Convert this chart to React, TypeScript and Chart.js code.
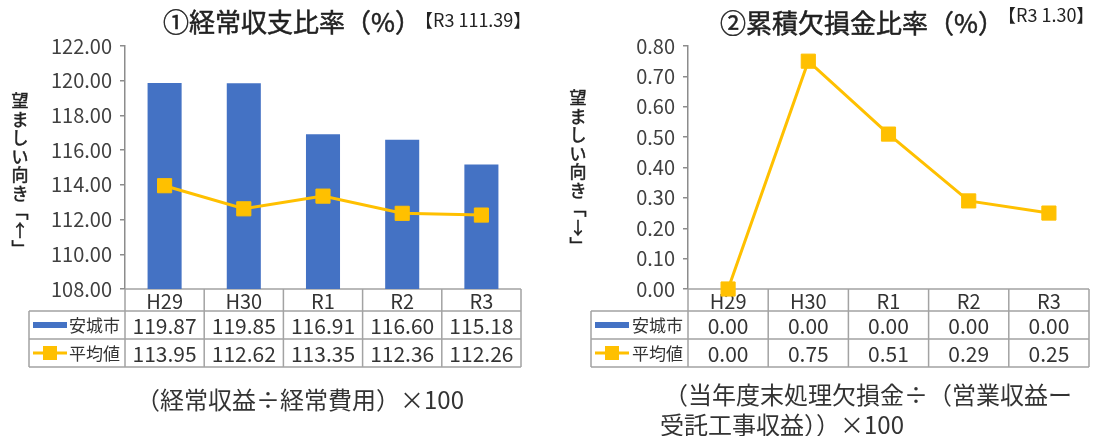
import React, { useEffect, useRef } from 'react';
import { Chart, registerables } from 'chart.js';

Chart.register(...registerables);

const FONT = "'Noto Sans CJK JP', 'Noto Sans', sans-serif";

// ---------------- data ----------------
const categories = ['H29', 'H30', 'R1', 'R2', 'R3'];
const seriesNames = ['安城市', '平均値'];

const ratioCity = [119.87, 119.85, 116.91, 116.6, 115.18];
const ratioAvg = [113.95, 112.62, 113.35, 112.36, 112.26];
const ratioTicks = [108, 110, 112, 114, 116, 118, 120, 122];

const deficitCity = [0.0, 0.0, 0.0, 0.0, 0.0];
const deficitAvg = [0.0, 0.75, 0.51, 0.29, 0.25];
const deficitTicks = [0, 0.1, 0.2, 0.3, 0.4, 0.5, 0.6, 0.7, 0.8];

const ratioTitle = '①経常収支比率（%）';
const ratioSub = '【R3 111.39】';
const deficitTitle = '②累積欠損金比率（%）';
const deficitSub = '【R3 1.30】';
const ratioYTitle = '望ましい向き﹁↑﹂';
const deficitYTitle = '望ましい向き﹁↓﹂';
const ratioFooter = ['（経常収益÷経常費用）×100'];
const deficitFooter = ['（当年度末処理欠損金÷（営業収益ー', '受託工事収益））×100'];

// ---------------- style ----------------
const BLUE = '#4472C4';
const GOLD = '#FFC000';
const LINE = '#a3a3a3';
const TEXT = '#333333';

function medText(ctx: any, t: string, x: number, y: number, w: number) {
  ctx.fillText(t, x, y);
  if (w > 0) {
    ctx.lineWidth = w;
    ctx.strokeStyle = ctx.fillStyle;
    ctx.strokeText(t, x, y);
  }
}

const decorPlugin = {
  id: 'decor',
  beforeDatasetsDraw(chart: any, _args: any, o: any) {
    const { ctx, chartArea: a } = chart;
    const labels = chart.data.labels as string[];
    const n = labels.length;
    const colW = (a.right - a.left) / n;
    const y0 = a.bottom;
    const y1 = y0 + 22;
    const y2 = y1 + 28;
    const y3 = y2 + 28;
    const tl = o.tableLeft;
    ctx.save();
    ctx.strokeStyle = LINE;
    ctx.lineWidth = 1.5;
    ctx.beginPath();
    ctx.moveTo(a.left, y0);
    ctx.lineTo(a.right, y0);
    for (const y of [y1, y2, y3]) {
      ctx.moveTo(tl, y);
      ctx.lineTo(a.right, y);
    }
    ctx.moveTo(tl, y1);
    ctx.lineTo(tl, y3);
    for (let i = 0; i <= n; i++) {
      const x = a.left + i * colW;
      ctx.moveTo(x, y0);
      ctx.lineTo(x, y3);
    }
    ctx.stroke();

    ctx.fillStyle = TEXT;
    ctx.textAlign = 'center';
    ctx.textBaseline = 'middle';
    const ds = chart.data.datasets;
    labels.forEach((l, i) => {
      const cx = a.left + (i + 0.5) * colW;
      ctx.font = `20px ${FONT}`;
      ctx.fillText(l, cx, (y0 + y1) / 2 + 1);
      ctx.font = `21px ${FONT}`;
      ctx.fillText(Number(ds[0].data[i]).toFixed(2), cx, (y1 + y2) / 2 + 1);
      ctx.fillText(Number(ds[1].data[i]).toFixed(2), cx, (y2 + y3) / 2 + 1);
    });

    // legend cells
    const r1 = (y1 + y2) / 2;
    const r2 = (y2 + y3) / 2;
    ctx.fillStyle = BLUE;
    ctx.fillRect(tl + 4, r1 - 3, 34, 6);
    ctx.strokeStyle = GOLD;
    ctx.lineWidth = 3;
    ctx.beginPath();
    ctx.moveTo(tl + 4, r2);
    ctx.lineTo(tl + 38, r2);
    ctx.stroke();
    ctx.fillStyle = GOLD;
    ctx.fillRect(tl + 21 - 7, r2 - 7, 14, 14);
    ctx.fillStyle = TEXT;
    ctx.textAlign = 'right';
    ctx.font = `17px ${FONT}`;
    ctx.fillText(ds[0].label, a.left - 5, r1 + 1);
    ctx.fillText(ds[1].label, a.left - 5, r2 + 1);
    ctx.restore();
  },
  afterDraw(chart: any, _args: any, o: any) {
    const { ctx } = chart;
    ctx.save();
    ctx.fillStyle = '#222';
    ctx.textBaseline = 'middle';
    ctx.textAlign = 'left';
    ctx.font = `26px ${FONT}`;
    medText(ctx, o.title, o.titleX, o.titleY, 0.5);
    const w = ctx.measureText(o.title).width;
    ctx.font = `18px ${FONT}`;
    ctx.fillText(o.sub, o.titleX + w - 6, o.subY);

    // vertical y title
    ctx.textAlign = 'center';
    ctx.font = `17px ${FONT}`;
    Array.from(o.yTitle as string).forEach((ch, i) => {
      medText(ctx, ch, o.yTitleX, o.yTitleY + i * 18.5, 0.5);
    });

    // footer
    ctx.font = `24px ${FONT}`;
    ctx.fillStyle = TEXT;
    o.footer.forEach((f: any) => {
      ctx.textAlign = f.align;
      ctx.fillText(f.text, f.x, f.y);
    });
    ctx.restore();
  },
};

function makeConfig(opts: {
  city: number[];
  avg: number[];
  ticks: number[];
  axisWidth: number;
  padRight: number;
  plugin: any;
}) {
  const { city, avg, ticks } = opts;
  return {
    type: 'bar' as const,
    data: {
      labels: categories,
      datasets: [
        {
          type: 'bar' as const,
          label: seriesNames[0],
          data: city,
          backgroundColor: BLUE,
          borderWidth: 0,
          barPercentage: 0.43,
          categoryPercentage: 1,
          order: 2,
        },
        {
          type: 'line' as const,
          label: seriesNames[1],
          data: avg,
          borderColor: GOLD,
          backgroundColor: GOLD,
          borderWidth: 3,
          pointStyle: 'rect',
          pointRadius: 10,
          pointBorderWidth: 1,
          pointBackgroundColor: GOLD,
          pointBorderColor: GOLD,
          clip: false,
          order: 1,
        },
      ],
    },
    options: {
      responsive: false,
      animation: false as const,
      layout: { padding: { left: 0, right: opts.padRight, top: 46, bottom: 147 } },
      plugins: {
        legend: { display: false },
        title: { display: false },
        tooltip: { enabled: false },
        decor: opts.plugin,
      },
      scales: {
        x: { type: 'category' as const, display: false, offset: true },
        y: {
          min: ticks[0],
          max: ticks[ticks.length - 1],
          afterFit: (s: any) => {
            s.width = opts.axisWidth;
          },
          afterBuildTicks: (s: any) => {
            s.ticks = ticks.map((v) => ({ value: v }));
          },
          grid: {
            display: true,
            drawOnChartArea: false,
            drawTicks: true,
            tickLength: 5,
            color: '#8c8c8c',
            lineWidth: 1.5,
          },
          border: { display: true, color: '#8c8c8c', width: 1.5 },
          ticks: {
            padding: 8,
            color: '#404040',
            font: { family: FONT, size: 20 },
            callback: (v: any) => Number(v).toFixed(2),
          },
        },
      },
    },
    plugins: [decorPlugin],
  };
}

function ChartBox({ left, config }: { left: number; config: any }) {
  const ref = useRef<HTMLCanvasElement>(null);
  useEffect(() => {
    const chart = new Chart(ref.current as HTMLCanvasElement, config);
    return () => chart.destroy();
  }, []);
  return (
    <div style={{ position: 'absolute', left, top: 0, width: 550, height: 436 }}>
      <canvas ref={ref} width={550} height={436} style={{ display: 'block' }} />
    </div>
  );
}

export default function App() {
  const leftCfg = makeConfig({
    city: ratioCity,
    avg: ratioAvg,
    ticks: ratioTicks,
    axisWidth: 125,
    padRight: 29,
    plugin: {
      tableLeft: 29,
      title: ratioTitle,
      sub: ratioSub,
      titleX: 163,
      titleY: 22,
      subY: 20,
      yTitle: ratioYTitle,
      yTitleX: 20,
      yTitleY: 101,
      footer: [{ text: ratioFooter[0], x: 300, y: 400, align: 'center' }],
    },
  });
  const rightCfg = makeConfig({
    city: deficitCity,
    avg: deficitAvg,
    ticks: deficitTicks,
    axisWidth: 138,
    padRight: 1,
    plugin: {
      tableLeft: 41,
      title: deficitTitle,
      sub: deficitSub,
      titleX: 170,
      titleY: 23,
      subY: 15,
      yTitle: deficitYTitle,
      yTitleX: 28,
      yTitleY: 98,
      footer: [
        { text: deficitFooter[0], x: 114, y: 395, align: 'left' },
        { text: deficitFooter[1], x: 110, y: 425, align: 'left' },
      ],
    },
  });
  return (
    <div
      style={{
        position: 'fixed',
        left: 0,
        top: 0,
        width: 1097,
        height: 436,
        overflow: 'hidden',
        background: '#fff',
      }}
    >
      <ChartBox left={0} config={leftCfg} />
      <ChartBox left={550} config={rightCfg} />
    </div>
  );
}
